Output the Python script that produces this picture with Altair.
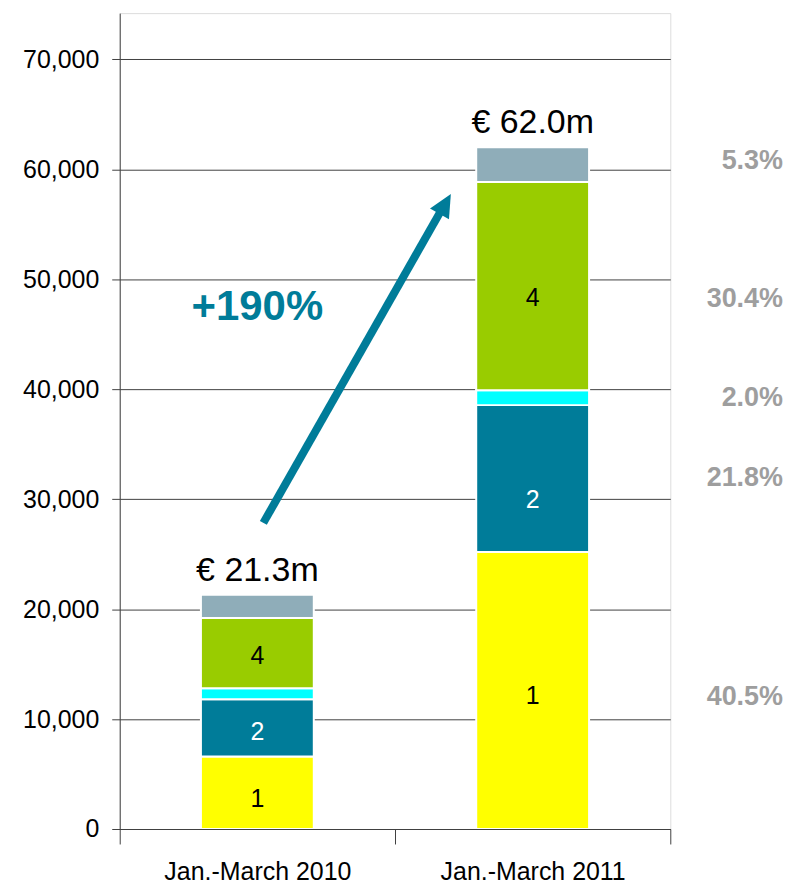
import altair as alt
import pandas as pd

# ---- data ----
periods = ["Jan.-March 2010", "Jan.-March 2011"]
segments = ["s1", "s2", "s3", "s4", "s5"]
seg_labels = ["1", "2", "", "4", ""]
seg_label_colors = ["#000000", "#FFFFFF", "#000000", "#000000", "#000000"]
seg_colors = ["#FFFF00", "#007C99", "#00FFFF", "#99CC00", "#8FADB9"]
values_2010 = [6600, 5200, 1000, 6400, 2100]
values_2011 = [25200, 13350, 1350, 18950, 3150]
label_y_2010 = [2720, 8800, 12300, 15690, 20200]
label_y_2011 = [12060, 29920, 39200, 48330, 60400]
totals = [21300, 62000]
total_labels = ["€ 21.3m", "€ 62.0m"]
share_labels = ["40.5%", "21.8%", "2.0%", "30.4%", "5.3%"]
share_label_y = [11970, 31920, 39170, 48240, 60750]
growth_label = "+190%"
growth_label_y = 47500
arrow_y = [27840, 56850]

TEAL = "#007C99"
FONT = "Liberation Sans"

rows = []
for p, vals, lys in zip(periods, [values_2010, values_2011], [label_y_2010, label_y_2011]):
    cum = 0
    for s, v, ly, lab, lc in zip(segments, vals, lys, seg_labels, seg_label_colors):
        rows.append(dict(period=p, seg=s, start=cum, end=cum + v,
                         ly=ly, label=lab, lcolor=lc))
        cum += v
df = pd.DataFrame(rows)
df_tot = pd.DataFrame(dict(period=periods, total=totals, label=total_labels))
df_share = pd.DataFrame(dict(label=share_labels, y=share_label_y))
df_growth = pd.DataFrame(dict(period=[periods[0]], y=[growth_label_y], label=[growth_label]))
df_arrow = pd.DataFrame(dict(y0=[arrow_y[0]], y1=[arrow_y[1]]))
df_head = pd.DataFrame(dict(y=[arrow_y[1]]))

x_enc = alt.X("period:N", sort=periods,
              scale=alt.Scale(paddingInner=0, paddingOuter=0),
              axis=alt.Axis(title=None, tickBand="extent", labelAngle=0,
                            labelFontSize=25, labelFont=FONT, labelColor="#000",
                            labelLimit=0, labelPadding=16, tickSize=15,
                            tickColor="#404040", domainColor="#404040",
                            grid=False, zindex=1))
y_scale = alt.Scale(domain=[0, 74200], nice=False)
y_enc = alt.Y("start:Q", scale=y_scale,
              axis=alt.Axis(title=None, values=list(range(0, 70001, 10000)),
                            format=",d", labelFontSize=25, labelFont=FONT,
                            labelColor="#000", labelPadding=13, tickSize=8,
                            tickColor="#404040", domainColor="#404040",
                            gridColor="#404040", gridWidth=1))

bars = alt.Chart(df).mark_bar(width=alt.RelativeBandSize(0.41), stroke="white",
                              strokeWidth=2).encode(
    x=x_enc,
    y=y_enc,
    y2="end:Q",
    color=alt.Color("seg:N", scale=alt.Scale(domain=segments, range=seg_colors),
                    legend=None),
)

seg_text = alt.Chart(df).mark_text(fontSize=25, font=FONT, baseline="middle").encode(
    x=alt.X("period:N", sort=periods),
    y=alt.Y("ly:Q", scale=y_scale),
    text="label:N",
    color=alt.Color("lcolor:N", scale=None),
)

tot_text = alt.Chart(df_tot).mark_text(fontSize=34, font=FONT, baseline="alphabetic",
                                       dy=-14, color="#000").encode(
    x=alt.X("period:N", sort=periods),
    y=alt.Y("total:Q", scale=y_scale),
    text="label:N",
)

growth_text = alt.Chart(df_growth).mark_text(fontSize=42, font=FONT, fontWeight="bold",
                                             baseline="middle", color=TEAL).encode(
    x=alt.X("period:N", sort=periods),
    y=alt.Y("y:Q", scale=y_scale),
    text="label:N",
)

share_text = alt.Chart(df_share).mark_text(fontSize=27, font=FONT, fontWeight="bold",
                                           align="right", baseline="middle",
                                           color="#9E9E9E").encode(
    x=alt.value(665),
    y=alt.Y("y:Q", scale=y_scale),
    text="label:N",
)

arrow = alt.Chart(df_arrow).mark_rule(color=TEAL, strokeWidth=8, strokeCap="butt").encode(
    x=alt.value(144),
    x2=alt.value(326),
    y=alt.Y("y0:Q", scale=y_scale),
    y2="y1:Q",
)

head = alt.Chart(df_head).mark_point(shape="M0,-1L-0.95,1L0.95,1Z", angle=29.7,
                                     size=529, filled=True, color=TEAL,
                                     opacity=1, strokeWidth=0).encode(
    x=alt.value(326.3),
    y=alt.Y("y:Q", scale=y_scale),
)

chart = alt.layer(bars, seg_text, tot_text, growth_text, share_text, arrow, head).properties(
    width=552, height=818,
    autosize=alt.AutoSizeParams(type="none"),
    padding={"left": 112, "top": 4, "right": 115, "bottom": 56},
).configure_view(stroke=None).configure(background="white")

chart.save("out.html", embed_options={"renderer": "svg", "actions": False})
